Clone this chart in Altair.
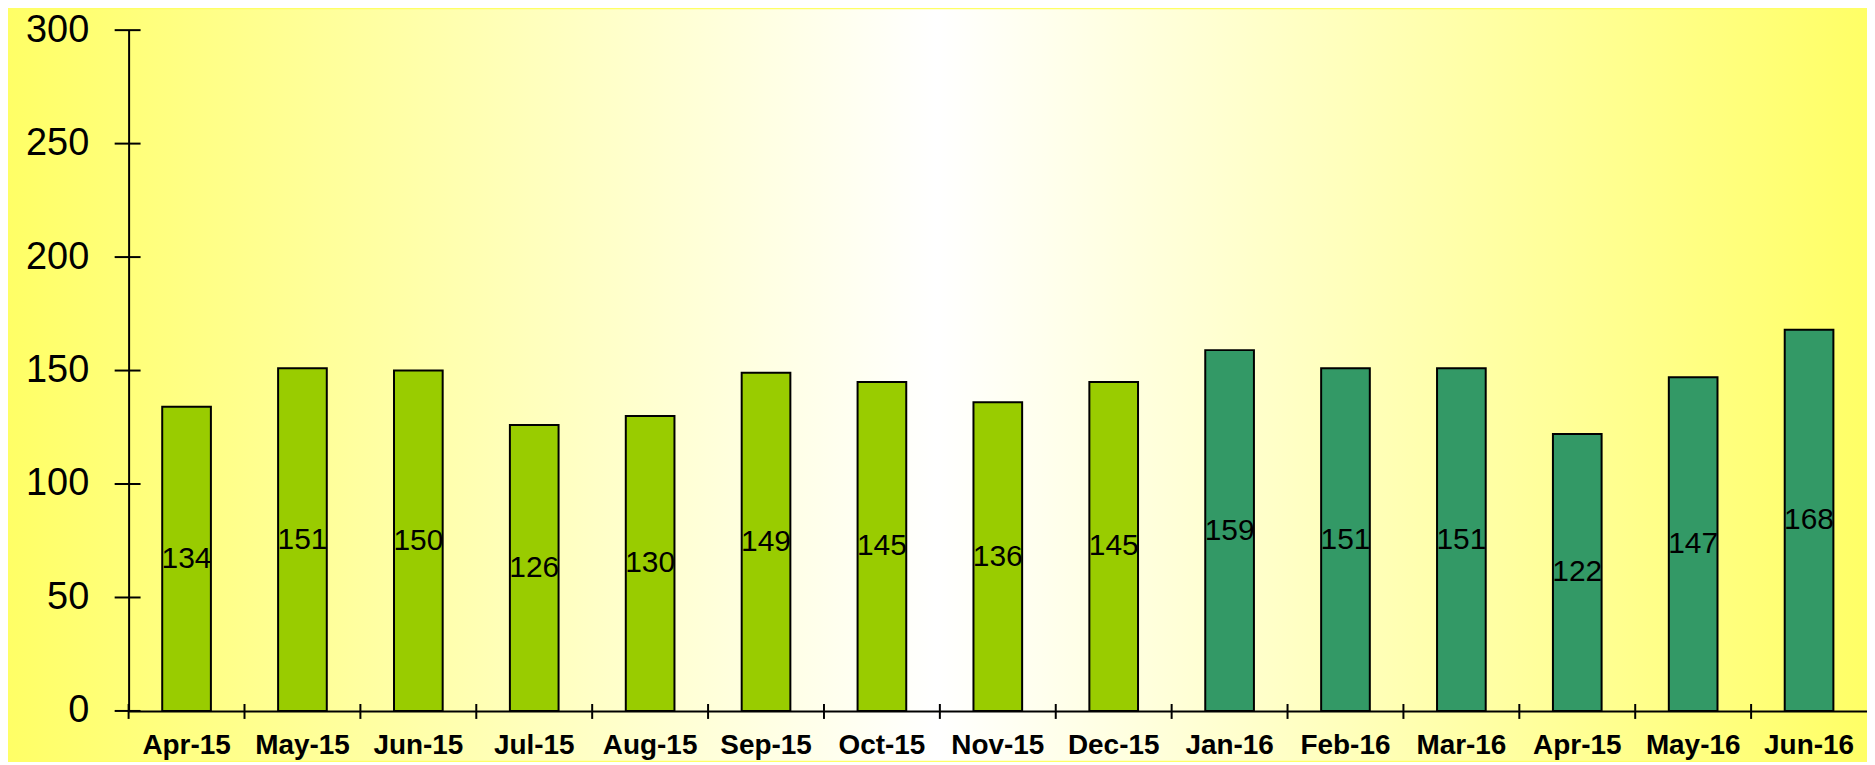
import altair as alt
import pandas as pd
import json

months = ["Apr-15", "May-15", "Jun-15", "Jul-15", "Aug-15", "Sep-15", "Oct-15",
          "Nov-15", "Dec-15", "Jan-16", "Feb-16", "Mar-16", "Apr-15", "May-16", "Jun-16"]
values = [134, 151, 150, 126, 130, 149, 145, 136, 145, 159, 151, 151, 122, 147, 168]
colors = ["#99CC00"] * 9 + ["#339966"] * 6
y_ticks = [0, 50, 100, 150, 200, 250, 300]

W, H = 1744, 683
PAD = {"left": 121, "top": 21, "right": 0, "bottom": 50}

df = pd.DataFrame({"idx": list(range(len(months))), "month": months,
                   "v": values, "c": colors})
ticks_df = pd.DataFrame({"t": y_ticks})
bg_df = pd.DataFrame({"a": [0]})

yscale = alt.Scale(domain=[0, 300], nice=False, zero=True)
label_expr = json.dumps(months) + "[datum.value]"

xenc = alt.X("idx:O", scale=alt.Scale(paddingInner=0, paddingOuter=0),
             axis=alt.Axis(title=None, labelExpr=label_expr, labelAngle=0,
                           labelFontSize=28, labelFontWeight="bold",
                           labelFont="Liberation Sans", labelColor="black",
                           labelPadding=21, ticks=False, tickSize=0,
                           domainColor="black", domainWidth=2, zindex=1))
yenc_axis = alt.Axis(title=None, values=y_ticks, labelFontSize=38,
                     labelFont="Liberation Sans", labelColor="black",
                     labelPadding=40, ticks=False, tickSize=0, grid=False,
                     domainColor="black", domainWidth=2, zindex=1)

bg = alt.Chart(bg_df).mark_rect(
    color=alt.LinearGradient(
        gradient="linear", x1=0, x2=1, y1=0, y2=0,
        stops=[alt.GradientStop(color="#FFFF66", offset=0),
               alt.GradientStop(color="#FFFFFF", offset=0.5),
               alt.GradientStop(color="#FFFF66", offset=1)])
).encode(x=alt.value(-PAD["left"]), x2=alt.value(W + PAD["right"]),
         y=alt.value(-PAD["top"]), y2=alt.value(H + PAD["bottom"]))

bars = alt.Chart(df).mark_bar(stroke="black", strokeWidth=2,
                              width=alt.RelativeBandSize(0.42)).encode(
    x=xenc,
    y=alt.Y("v:Q", scale=yscale, axis=yenc_axis),
    color=alt.Color("c:N", scale=None),
)

text = alt.Chart(df).transform_calculate(half="datum.v / 2").mark_text(
    font="Liberation Sans", fontSize=30, color="black", align="center",
    baseline="middle"
).encode(
    x=alt.X("idx:O"),
    y=alt.Y("half:Q", scale=yscale),
    text=alt.Text("v:Q"),
)

yticks = alt.Chart(ticks_df).mark_rule(color="black", strokeWidth=2).encode(
    y=alt.Y("t:Q", scale=yscale),
    x=alt.value(-14), x2=alt.value(12),
)

xticks = alt.Chart(df).mark_rule(color="black", strokeWidth=2).encode(
    x=alt.X("idx:O", bandPosition=0),
    y=alt.value(H - 7), y2=alt.value(H + 8),
)

chart = alt.layer(bg, bars, text, yticks, xticks).properties(
    width=W, height=H,
    autosize=alt.AutoSizeParams(type="none"),
    padding=PAD,
).configure_view(stroke=None).configure(background="#FFFF66")

chart.save("out.html", embed_options={"renderer": "svg", "actions": False})
